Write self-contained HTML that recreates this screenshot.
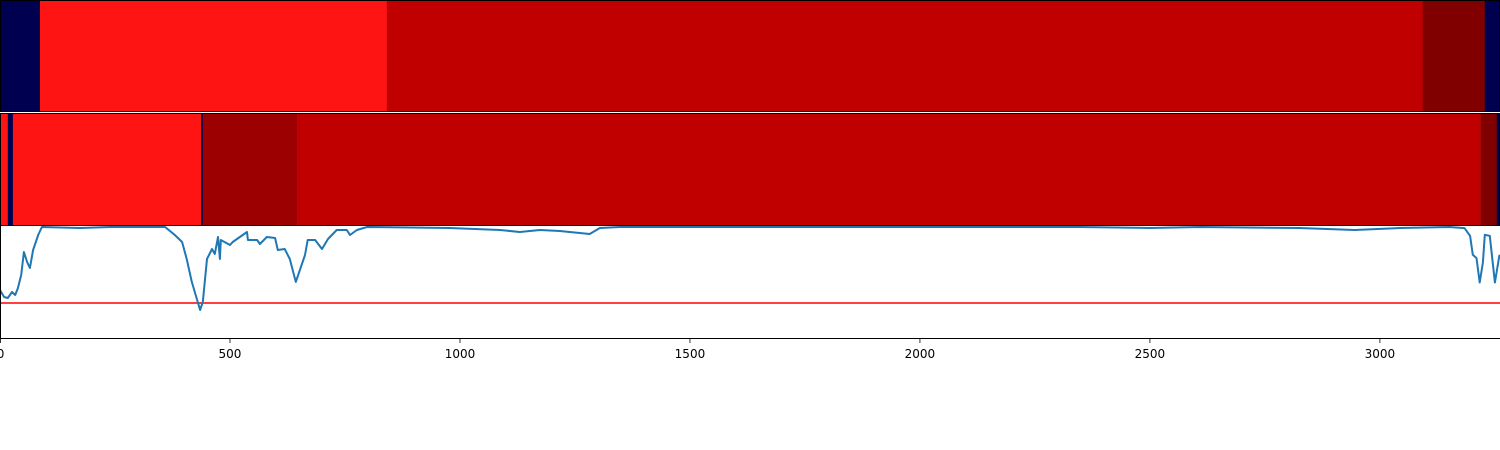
<!DOCTYPE html>
<html><head><meta charset="utf-8"><style>
html,body{margin:0;padding:0;background:#fff;}
svg{display:block;font-family:"DejaVu Sans","Liberation Sans",sans-serif;}
</style></head><body>
<svg id="chart" width="1500" height="450" viewBox="0 0 1500 450"></svg>
<script>
const xMax = 3260;
const row1Bounds = [0, 87, 841, 3093, 3228, 3260];
const row1Colors = ["#000050", "#ff1414", "#c00000", "#800000", "#000050"];
const row2Bounds = [0, 17, 28, 437, 441, 646, 3219, 3254, 3260];
const row2Colors = ["#ff1414", "#000050", "#ff1414", "#000050", "#9c0000", "#c00000", "#800000", "#000050"];
const lineX = [0,9,17,26,33,39,46,52,59,65,72,83,91,174,239,359,380,396,406,417,435,441,450,461,467,474,478,480,500,506,537,539,559,565,580,598,604,619,630,643,663,669,685,700,713,732,754,761,776,798,978,1087,1130,1174,1217,1282,1304,1347,2347,2499,2608,2825,2945,3043,3151,3184,3196,3202,3210,3217,3224,3228,3239,3250,3260];
const lineY = [0.432,0.369,0.36,0.414,0.387,0.45,0.568,0.775,0.685,0.631,0.793,0.928,1.0,0.991,1.0,1.0,0.928,0.865,0.712,0.505,0.252,0.324,0.712,0.802,0.757,0.91,0.712,0.883,0.838,0.865,0.955,0.883,0.883,0.847,0.91,0.901,0.793,0.802,0.712,0.505,0.748,0.883,0.883,0.802,0.892,0.973,0.973,0.928,0.973,1.0,0.991,0.973,0.955,0.973,0.964,0.937,0.991,1.0,1.0,0.991,1.0,0.991,0.973,0.991,1.0,0.99,0.92,0.75,0.72,0.50,0.68,0.93,0.92,0.50,0.75];
const threshold = 0.315;
const xTicks = [0,500,1000,1500,2000,2500,3000];

const NS="http://www.w3.org/2000/svg";
const svg=document.getElementById('chart');
const X=v=>v/xMax*1499.5;
function el(t,a,p){const e=document.createElementNS(NS,t);for(const k in a)e.setAttribute(k,a[k]);(p||svg).appendChild(e);return e;}
function row(bounds,colors,top,h,name){
  for(let i=0;i<colors.length;i++){
    const r=el('rect',{x:X(bounds[i]),y:top,width:X(bounds[i+1])-X(bounds[i])+0.3,height:h,fill:colors[i]});
    
    
  }
  const f=el('rect',{x:0.5,y:top,width:1499,height:h,fill:'none',stroke:'#000','stroke-width':1});
  
  
}
row(row1Bounds,row1Colors,0.5,111,'top-row');
row(row2Bounds,row2Colors,113.5,112,'middle-row');
const Y=v=>338-v*111;
const th=el('line',{x1:0,x2:1500,y1:Y(threshold),y2:Y(threshold),stroke:'#ff0000','stroke-width':1.5});


let d='';
for(let i=0;i<lineX.length;i++)d+=(i?'L':'M')+X(lineX[i]).toFixed(1)+','+Y(lineY[i]).toFixed(1);
const p=el('path',{d:d,fill:'none',stroke:'#1f77b4','stroke-width':2,'stroke-linejoin':'round'});


const ax=el('path',{d:'M0.5,226 L0.5,338.5 L1500,338.5',fill:'none',stroke:'#000','stroke-width':1});


for(const t of xTicks){
  const x=Math.max(0.5,X(t));
  const tk=el('line',{x1:x,x2:x,y1:338.5,y2:343,stroke:'#000','stroke-width':0.8});
  
  
  const tx=el('text',{x:x,y:358,'text-anchor':'middle','font-size':12,fill:'#000'});
  tx.textContent=t;
  
  
}
</script>
</body></html>
